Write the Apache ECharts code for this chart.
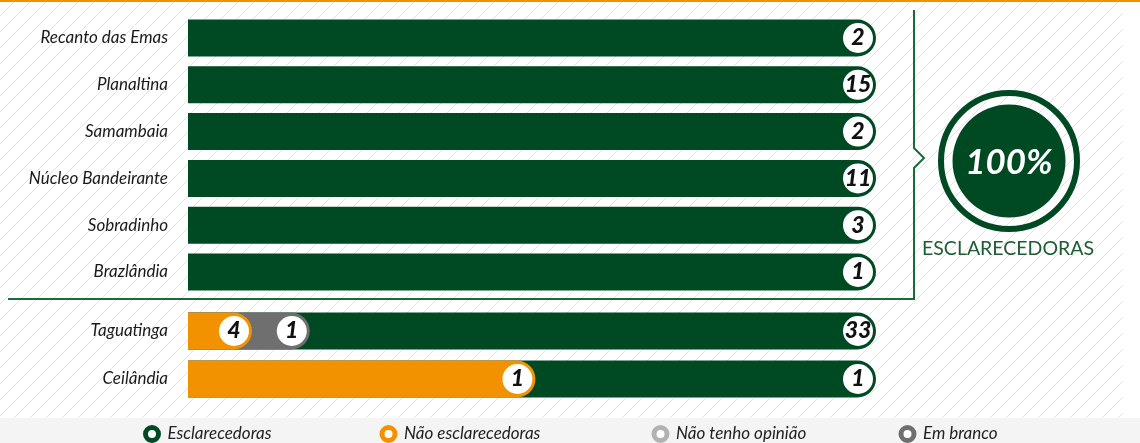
<!DOCTYPE html>
<html>
<head>
<meta charset="utf-8">
<script src="https://cdn.jsdelivr.net/npm/echarts@6/dist/echarts.min.js"></script>
<style>
html,body{margin:0;padding:0;background:#fff;}
#chart{width:1140px;height:443px;}
</style>
</head>
<body>
<div id="chart"></div>
<script>
//dados
let topRegions = ['Recanto das Emas', 'Planaltina', 'Samambaia', 'Núcleo Bandeirante', 'Sobradinho', 'Brazlândia'];
let topEsclarecedoras = [2, 15, 2, 11, 3, 1];

let bottomRegions = ['Taguatinga', 'Ceilândia'];
let bottomEsclarecedoras = [33, 1];
let bottomNaoEsclarecedoras = [4, 1];
let bottomEmBranco = [1, 0];
// parte da barra (%) ocupada por cada resposta
let naoShare = [9.3, 50.5];
let brancoShare = [8.4, 0];

let verde = '#004a23';
let laranja = '#f39200';
let cinzaClaro = '#b2b2b2';
let cinzaEscuro = '#6f6f6f';
let fonte = 'Lato';

// fundo hachurado
let hatch = document.createElement('canvas');
hatch.width = 16;
hatch.height = 16;
let hctx = hatch.getContext('2d');
hctx.strokeStyle = '#e3e3e3';
hctx.lineWidth = 1;
hctx.beginPath();
hctx.moveTo(-2, 18); hctx.lineTo(18, -2);
hctx.moveTo(-2, 2); hctx.lineTo(2, -2);
hctx.moveTo(14, 18); hctx.lineTo(18, 14);
hctx.stroke();

function circleLabel(getText){
    return {
        show: true,
        position: 'insideRight',
        distance: 3,
        formatter: function(p){ return '{c|' + getText(p.dataIndex) + '}'; },
        rich: {
            c: {
                width: 30,
                height: 30,
                lineHeight: 32,
                align: 'center',
                backgroundColor: '#fff',
                borderRadius: 15,
                color: '#111',
                fontFamily: fonte,
                fontStyle: 'italic',
                fontWeight: 900,
                fontSize: 23
            }
        }
    };
}

let chartDOM = document.getElementById('chart');
let chart = echarts.init(chartDOM);

let axisLabelStyle = {
    margin: 20,
    color: '#1a1a1a',
    fontFamily: fonte,
    fontStyle: 'italic',
    fontSize: 17
};

let grayData = bottomRegions.map(function(r, i){
    return bottomEmBranco[i] ? naoShare[i] + brancoShare[i] : '-';
});
let orangeData = bottomRegions.map(function(r, i){
    return bottomNaoEsclarecedoras[i] ? naoShare[i] : '-';
});

let legendBase = {
    top: 425,
    padding: 0,
    icon: 'circle',
    itemWidth: 13,
    itemHeight: 13,
    selectedMode: false,
    textStyle: {
        fontFamily: fonte,
        fontStyle: 'italic',
        fontSize: 17,
        color: '#222',
        padding: [0, 0, 0, 4]
    }
};
function legendItem(name, color, left){
    return Object.assign({}, legendBase, {
        left: left,
        data: [{name: name, itemStyle: {color: '#fff', borderColor: color, borderWidth: 5}}]
    });
}

let opts = {
    animation: false,
    graphic: [
        {type: 'rect', z: -10, shape: {x: 0, y: 0, width: 1123, height: 418}, style: {fill: {image: hatch, repeat: 'repeat'}}},
        {type: 'rect', z: -5, shape: {x: 0, y: 418, width: 1140, height: 25}, style: {fill: '#f4f4f4'}},
        {type: 'rect', z: 5, shape: {x: 0, y: 0, width: 1140, height: 2}, style: {fill: laranja}},
        {type: 'polyline', z: 5, shape: {points: [[8, 299], [914, 299], [914, 168], [924, 158], [914, 148], [914, 10]]},
            style: {stroke: '#1b6b38', lineWidth: 2, fill: null}},
        {type: 'circle', z: 5, shape: {cx: 1009, cy: 161, r: 68}, style: {stroke: verde, lineWidth: 6, fill: null}},
        {type: 'circle', z: 5, shape: {cx: 1009, cy: 161, r: 56.5}, style: {fill: verde}},
        {type: 'text', z: 6, x: 1009, y: 163, style: {text: '100%', fill: '#fff', align: 'center', verticalAlign: 'middle',
            font: 'italic bold 35px Lato'}},
        {type: 'text', z: 6, x: 1008, y: 249, style: {text: 'ESCLARECEDORAS', fill: '#1e5c34', align: 'center', verticalAlign: 'middle',
            font: '19.5px Lato'}}
    ],
    grid: [
        {left: 188, right: 264, top: 14.6, height: 280.8},
        {left: 188, right: 264, top: 307, height: 96}
    ],
    xAxis: [
        {gridIndex: 0, type: 'value', min: 0, max: 100, show: false},
        {gridIndex: 1, type: 'value', min: 0, max: 100, show: false}
    ],
    yAxis: [
        {gridIndex: 0, type: 'category', data: topRegions, inverse: true,
            axisLine: {show: false}, axisTick: {show: false}, axisLabel: axisLabelStyle},
        {gridIndex: 1, type: 'category', data: bottomRegions, inverse: true,
            axisLine: {show: false}, axisTick: {show: false}, axisLabel: axisLabelStyle}
    ],
    legend: [
        legendItem('Esclarecedoras', verde, 143),
        legendItem('Não esclarecedoras', laranja, 379.5),
        legendItem('Não tenho opinião', cinzaClaro, 651.5),
        legendItem('Em branco', cinzaEscuro, 898.5)
    ],
    series: [
        {
            name: 'Esclarecedoras', type: 'bar', xAxisIndex: 0, yAxisIndex: 0,
            barWidth: 37,
            data: topRegions.map(function(){ return 100; }),
            itemStyle: {color: verde, borderRadius: [0, 18.5, 18.5, 0]},
            label: circleLabel(function(i){ return topEsclarecedoras[i]; })
        },
        {
            name: 'Esclarecedoras', type: 'bar', xAxisIndex: 1, yAxisIndex: 1,
            barWidth: 37, barGap: '-100%',
            data: bottomRegions.map(function(){ return 100; }),
            itemStyle: {color: verde, borderRadius: [0, 18.5, 18.5, 0]},
            label: circleLabel(function(i){ return bottomEsclarecedoras[i]; })
        },
        {
            name: 'Em branco', type: 'bar', xAxisIndex: 1, yAxisIndex: 1,
            barWidth: 37, barGap: '-100%',
            data: grayData,
            itemStyle: {color: cinzaEscuro, borderRadius: [0, 18.5, 18.5, 0]},
            label: circleLabel(function(i){ return bottomEmBranco[i]; })
        },
        {
            name: 'Não esclarecedoras', type: 'bar', xAxisIndex: 1, yAxisIndex: 1,
            barWidth: 37, barGap: '-100%',
            data: orangeData,
            itemStyle: {color: laranja, borderRadius: [0, 18.5, 18.5, 0]},
            label: circleLabel(function(i){ return bottomNaoEsclarecedoras[i]; })
        },
        {
            name: 'Não tenho opinião', type: 'bar', xAxisIndex: 1, yAxisIndex: 1,
            barWidth: 37, barGap: '-100%',
            data: [],
            itemStyle: {color: cinzaClaro}
        }
    ]
};
chart.setOption(opts);
</script>
</body>
</html>
